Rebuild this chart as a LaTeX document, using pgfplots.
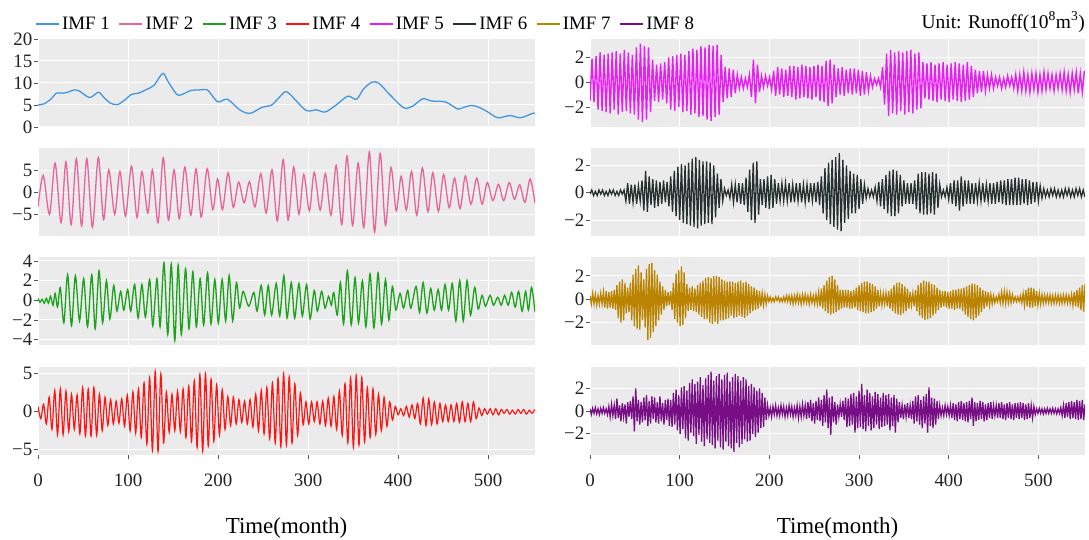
\documentclass[border=0pt]{standalone}
\usepackage{fontspec}
\setmainfont{Liberation Serif}
\usepackage{pgfplots}
\usepackage{pgfplotstable}
\pgfplotsset{compat=1.18}
\definecolor{bgc}{HTML}{EBEBEB}
\definecolor{tickc}{HTML}{555555}
\definecolor{labc}{HTML}{222222}
\definecolor{cA}{HTML}{4196E4}
\definecolor{cB}{HTML}{E8649A}
\definecolor{cC}{HTML}{1CA21C}
\definecolor{cD}{HTML}{FF1414}
\definecolor{cE}{HTML}{E81EF5}
\definecolor{cF}{HTML}{26302E}
\definecolor{cG}{HTML}{BA8300}
\definecolor{cH}{HTML}{780E85}

\pgfplotstableread{
x y
0 5.0
7 5.3
14.7 6.4
20.5 7.7
28.3 7.7
34.1 8.0
39.9 8.4
45.7 8.2
57.3 6.7
67.0 7.9
72.8 6.8
80.6 5.4
88.3 5.1
96.1 6.1
103.8 7.4
111.6 7.7
121.3 8.6
129.0 9.5
138.7 12.2
144.5 10.3
154.2 7.4
160.0 7.4
169.7 8.3
177.4 8.4
187.1 8.5
191.0 7.8
199.9 5.7
210.4 6.3
224.0 3.9
235.5 3.1
249.1 4.5
258.8 4.9
266.5 6.4
274.3 8.0
280.1 7.4
297.5 3.8
309.1 3.9
318.8 3.4
330.5 4.9
344.0 7.0
353.7 6.3
361.4 8.6
371.1 10.2
378.9 9.9
390.5 7.4
406.0 4.4
415.7 4.7
427.3 6.4
437.0 5.9
452.5 5.7
466.0 4.1
471.8 4.4
481.5 4.9
489.3 4.5
499.0 3.5
510.6 2.1
524.2 2.6
535.8 2.1
549.3 3.1
552 3.1
}\imfA

\pgfplotstableread{
x y
0 -3.3
5.8 3.8
12.8 -5.0
19.0 6.6
25.6 -6.9
31.0 6.9
36.8 -7.3
42.6 7.6
48.4 -7.6
54.2 7.6
60.4 -7.9
67.0 7.9
72.8 -6.2
78.6 5.1
85.2 -5.0
91.0 4.7
97.2 -5.4
103.8 5.9
110.0 -5.7
115.4 4.7
122.0 -4.7
127.1 5.1
133.3 -6.9
139.1 7.8
144.9 -6.3
151.1 5.1
156.9 -6.0
163.1 5.7
169.7 -5.2
175.5 5.3
181.3 -5.6
187.9 5.3
194.1 -3.9
199.5 3.0
204.9 -3.9
211.1 4.4
216.9 -3.4
222.8 2.3
229.0 -2.4
234.8 2.4
241.0 -3.3
247.5 4.2
253.4 -4.7
259.9 5.1
265.8 -6.5
272.3 7.4
277.8 -6.3
284.0 5.7
289.8 -5.0
295.2 4.0
301.4 -4.2
306.8 4.5
313.4 -4.0
319.2 4.2
325.4 -5.2
331.2 6.1
337.4 -7.3
343.2 8.2
349.4 -7.5
355.6 6.6
361.8 -8.0
368.0 9.1
373.8 -9.0
380.0 8.8
385.9 -7.5
392.0 5.6
397.9 -4.2
403.3 3.6
409.1 -4.0
414.9 4.7
420.7 -5.2
426.9 5.5
433.1 -4.4
438.5 4.4
444.7 -4.3
450.5 4.0
456.7 -3.5
462.6 3.2
468.8 -3.7
474.6 3.7
480.8 -2.7
487.3 3.2
493.2 -2.7
499.0 2.2
505.2 -1.9
511.4 1.8
517.2 -1.9
523.4 2.2
529.2 -1.6
535.0 1.7
540.8 -2.3
546.6 3.0
552 -2.5
}\imfB

\pgfplotstableread{
x y
0.0 0.2
2.3 -0.2
4.6 0.1
7.0 -0.3
9.3 0.2
11.6 -0.3
13.9 0.4
16.7 -0.5
19.0 0.7
21.7 -0.7
24.8 1.3
28.7 -2.3
32.9 2.6
37.2 -2.6
41.5 2.5
46.1 -2.1
50.7 2.2
55.0 -2.7
59.7 2.6
63.5 -2.9
67.8 3.0
71.7 -2.3
76.0 2.0
79.8 -1.9
84.1 1.5
87.6 -1.1
91.8 0.9
95.3 -1.0
99.6 1.1
103.0 -1.1
107.3 1.6
111.2 -1.8
115.4 1.6
119.3 -1.7
124.0 2.1
127.5 -2.6
132.1 2.2
135.6 -2.7
139.9 3.8
144.1 -3.5
148.0 3.7
151.9 -4.1
155.7 3.6
159.2 -3.5
163.9 3.2
167.7 -2.9
172.0 2.9
175.9 -2.7
180.1 2.2
184.0 -2.5
188.3 2.8
192.1 -2.4
196.4 2.1
200.3 -2.3
204.5 2.1
208.4 -2.1
212.3 2.5
216.2 -2.1
220.4 1.8
223.9 -0.8
227.8 0.9
234.0 -0.6
239.8 0.8
243.3 -1.1
247.9 1.5
251.8 -1.5
255.7 1.5
259.5 -1.5
264.6 1.7
268.5 -1.6
273.1 2.5
276.6 -1.8
281.3 1.8
285.1 -1.8
289.8 1.7
293.6 -1.6
298.3 1.6
302.2 -1.9
306.8 1.0
310.3 -1.1
315.0 0.9
318.8 -0.8
322.7 0.4
325.8 -0.5
328.5 0.8
332.4 -1.5
335.9 1.8
339.4 -2.4
343.6 3.0
347.9 -2.5
352.1 2.3
356.0 -2.3
360.3 2.0
364.2 -2.7
368.8 2.7
373.1 -2.8
377.7 2.8
381.6 -2.4
385.9 2.1
389.7 -2.0
393.6 1.4
397.5 -1.0
402.1 0.7
406.0 -0.8
410.6 1.0
414.1 -0.8
419.9 1.4
423.8 -1.25
427.7 1.8
431.9 -1.3
436.2 1.2
440.1 -1.0
444.4 1.1
448.2 -1.0
452.1 1.6
456.0 -1.0
460.2 1.7
464.1 -2.1
468.4 2.0
472.3 -2.1
476.5 2.0
480.4 -1.5
485.0 1.3
488.9 -0.9
493.2 0.5
497.0 -0.6
502.1 0.5
505.9 -0.5
510.6 0.3
514.5 -0.5
518.3 0.5
522.2 -0.5
526.1 0.8
530.0 -0.7
533.8 0.9
537.7 -1.1
541.6 0.9
544.7 -1.0
548.2 1.3
552.0 -1.2
}\imfC

\pgfplotstableread[row sep=\\]{
y\\
0.7\\ -0.9\\ 1.0\\ -1.6\\ 1.9\\ -2.3\\ 2.8\\ -3.0\\ 3.0\\ -3.0\\
2.7\\ -2.6\\ 2.3\\ -2.3\\ 2.2\\ -2.9\\ 3.2\\ -3.2\\ 3.0\\ -3.2\\
3.2\\ -3.1\\ 2.3\\ -2.5\\ 1.9\\ -1.8\\ 1.6\\ -1.6\\ 1.4\\ -1.5\\
1.7\\ -1.9\\ 2.2\\ -2.5\\ 2.6\\ -2.8\\ 3.0\\ -3.4\\ 3.8\\ -4.3\\
4.5\\ -5.1\\ 5.3\\ -5.2\\ 5.0\\ -4.1\\ 2.6\\ -2.7\\ 2.3\\ -2.5\\
2.7\\ -2.6\\ 3.0\\ -3.4\\ 3.4\\ -3.9\\ 4.1\\ -4.7\\ 4.9\\ -5.2\\
5.0\\ -4.5\\ 4.3\\ -3.9\\ 3.6\\ -3.1\\ 2.9\\ -2.3\\ 2.0\\ -1.8\\
1.9\\ -1.6\\ 1.6\\ -1.4\\ 1.4\\ -1.6\\ 1.6\\ -2.0\\ 2.3\\ -2.5\\
2.8\\ -2.9\\ 3.2\\ -3.6\\ 3.8\\ -4.1\\ 4.4\\ -4.6\\ 5.0\\ -4.4\\
4.6\\ -4.1\\ 3.7\\ -3.1\\ 2.5\\ -1.7\\ 1.3\\ -1.6\\ 1.3\\ -1.3\\
1.3\\ -1.6\\ 1.4\\ -1.8\\ 1.8\\ -1.9\\ 2.0\\ -2.3\\ 2.7\\ -3.1\\
3.7\\ -4.1\\ 4.5\\ -4.7\\ 4.8\\ -4.4\\ 4.5\\ -4.0\\ 3.2\\ -3.4\\
3.0\\ -3.0\\ 2.3\\ -2.5\\ 1.9\\ -1.9\\ 1.3\\ -1.1\\ 0.7\\ -0.4\\
0.4\\ -0.5\\ 0.7\\ -0.7\\ 0.9\\ -0.9\\ 1.1\\ -1.6\\ 1.8\\ -1.8\\
1.7\\ -1.7\\ 1.3\\ -1.6\\ 1.1\\ -1.3\\ 0.9\\ -1.3\\ 0.9\\ -1.3\\
1.1\\ -1.4\\ 1.3\\ -1.3\\ 1.1\\ -1.3\\ 1.3\\ -0.9\\ 0.5\\ -0.5\\
0.4\\ -0.3\\ 0.4\\ -0.4\\ 0.4\\ -0.4\\ 0.3\\ -0.2\\ 0.3\\ -0.3\\
0.2\\ -0.3\\ 0.3\\ -0.2\\ 0.3\\ -0.3\\ 0.2\\ -0.2\\ 0.3\\
}\imfD

\pgfplotstableread[row sep=\\]{
y\\
-1.5\\ 1.9\\ -1.6\\ 2.1\\ -2.2\\ 2.4\\ -2.3\\ 2.2\\ -2.4\\ 2.3\\
-2.5\\ 2.4\\ -2.2\\ 2.5\\ -2.6\\ 2.3\\ -2.4\\ 2.6\\ -2.3\\ 2.4\\
-2.5\\ 2.2\\ -2.6\\ 2.8\\ -3.0\\ 3.1\\ -3.2\\ 2.9\\ -3.0\\ 2.8\\
-2.4\\ 1.8\\ -1.5\\ 1.4\\ -1.6\\ 1.5\\ -1.4\\ 1.6\\ -1.7\\ 2.0\\
-2.2\\ 2.1\\ -2.3\\ 2.2\\ -2.0\\ 2.3\\ -2.4\\ 2.2\\ -2.3\\ 2.5\\
-2.6\\ 2.7\\ -2.5\\ 2.6\\ -2.8\\ 2.9\\ -2.7\\ 2.8\\ -3.0\\ 3.0\\
-3.1\\ 2.9\\ -2.8\\ 3.0\\ -2.6\\ 2.2\\ -1.6\\ 1.2\\ -1.3\\ 1.1\\
-1.2\\ 1.0\\ -0.9\\ 0.6\\ -0.5\\ 0.4\\ -0.5\\ 0.3\\ -0.4\\ 0.6\\
-1.2\\ 1.8\\ -1.7\\ 1.4\\ -0.8\\ 0.5\\ -0.4\\ 0.5\\ -0.3\\ 0.4\\
-0.6\\ 0.9\\ -1.1\\ 1.2\\ -1.0\\ 1.1\\ -1.2\\ 1.0\\ -1.1\\ 1.3\\
-1.2\\ 1.3\\ -1.4\\ 1.2\\ -1.3\\ 1.4\\ -1.2\\ 1.3\\ -1.3\\ 1.2\\
-1.4\\ 1.3\\ -1.2\\ 1.4\\ -1.5\\ 1.3\\ -1.6\\ 1.7\\ -1.9\\ 1.8\\
-1.7\\ 1.4\\ -1.2\\ 1.1\\ -1.0\\ 1.2\\ -1.1\\ 1.0\\ -0.9\\ 1.1\\
-1.0\\ 1.1\\ -0.9\\ 1.0\\ -1.1\\ 0.9\\ -1.0\\ 0.8\\ -0.7\\ 0.5\\
-0.4\\ 0.3\\ -0.2\\ 0.3\\ -0.4\\ 1.2\\ -1.8\\ 2.3\\ -2.7\\ 2.6\\
-2.5\\ 2.4\\ -2.6\\ 2.5\\ -2.3\\ 2.4\\ -2.6\\ 2.5\\ -2.4\\ 2.6\\
-2.5\\ 2.3\\ -2.2\\ 2.4\\ -2.1\\ 1.6\\ -1.3\\ 1.5\\ -1.4\\ 1.6\\
-1.5\\ 1.4\\ -1.6\\ 1.5\\ -1.4\\ 1.6\\ -1.5\\ 1.4\\ -1.6\\ 1.5\\
-1.4\\ 1.6\\ -1.5\\ 1.5\\ -1.6\\ 1.4\\ -1.5\\ 1.6\\ -1.4\\ 1.3\\
-1.2\\ 1.0\\ -0.9\\ 0.9\\ -0.8\\ 0.9\\ -0.7\\ 0.6\\ -0.5\\ 0.6\\
-0.5\\ 0.4\\ -0.3\\ 0.4\\ -0.5\\ 0.3\\ -0.4\\ 0.5\\ -0.3\\ 0.4\\
-0.5\\ 0.6\\ -0.7\\ 0.6\\ -0.7\\ 0.8\\ -0.7\\ 0.6\\ -0.8\\ 0.7\\
-0.6\\ 0.7\\ -0.8\\ 0.6\\ -0.7\\ 0.8\\ -0.6\\ 0.7\\ -0.5\\ 0.6\\
-0.7\\ 0.6\\ -0.5\\ 0.7\\ -0.6\\ 0.8\\ -0.7\\ 0.6\\ -0.8\\ 0.7\\
-0.6\\ 0.8\\ -0.9\\ 0.7\\ -0.8\\ 0.9\\
}\imfE

\pgfplotstableread[row sep=\\]{
y\\
-0.1\\ 0.2\\ -0.2\\ 0.1\\ -0.2\\ 0.2\\ -0.1\\ 0.2\\ -0.2\\ 0.1\\
-0.2\\ 0.2\\ -0.1\\ 0.2\\ -0.2\\ 0.1\\ -0.2\\ 0.2\\ -0.1\\ 0.2\\
-0.6\\ 0.7\\ -0.8\\ 0.6\\ -0.7\\ 0.6\\ -0.8\\ 0.5\\ -0.6\\ 0.9\\
-1.3\\ 1.6\\ -1.4\\ 1.2\\ -0.9\\ 1.0\\ -1.1\\ 0.9\\ -1.0\\ 0.8\\
-0.8\\ 0.9\\ -0.7\\ 0.8\\ -1.0\\ 1.2\\ -1.4\\ 1.6\\ -1.7\\ 1.9\\
-2.0\\ 2.1\\ -2.2\\ 2.0\\ -2.3\\ 2.2\\ -2.4\\ 2.5\\ -2.5\\ 2.6\\
-2.6\\ 2.4\\ -2.4\\ 2.3\\ -2.3\\ 2.3\\ -2.2\\ 2.2\\ -2.3\\ 2.0\\
-1.8\\ 1.4\\ -1.1\\ 1.0\\ -0.6\\ 0.3\\ -0.2\\ 0.2\\ -0.4\\ 0.6\\
-0.7\\ 0.6\\ -0.7\\ 0.7\\ -0.8\\ 0.7\\ -0.9\\ 1.1\\ -1.4\\ 1.7\\
-2.0\\ 2.2\\ -2.2\\ 2.3\\ -1.6\\ 1.0\\ -0.9\\ 1.0\\ -1.1\\ 1.2\\
-1.2\\ 1.3\\ -1.1\\ 1.0\\ -0.8\\ 0.7\\ -0.6\\ 0.7\\ -0.6\\ 0.7\\
-0.6\\ 0.7\\ -0.7\\ 0.6\\ -0.7\\ 0.7\\ -0.6\\ 0.7\\ -0.7\\ 0.6\\
-0.7\\ 0.6\\ -0.7\\ 0.7\\ -0.6\\ 0.7\\ -0.7\\ 0.8\\ -0.9\\ 1.2\\
-1.5\\ 1.8\\ -2.0\\ 2.2\\ -2.3\\ 2.4\\ -2.5\\ 2.6\\ -2.7\\ 2.9\\
-2.8\\ 2.4\\ -2.2\\ 2.0\\ -1.9\\ 1.6\\ -1.5\\ 1.4\\ -1.5\\ 1.3\\
-1.2\\ 1.0\\ -0.8\\ 0.6\\ -0.4\\ 0.3\\ -0.3\\ 0.2\\ -0.3\\ 0.4\\
-0.6\\ 0.8\\ -1.0\\ 1.0\\ -1.2\\ 1.3\\ -1.5\\ 1.6\\ -1.7\\ 1.7\\
-1.7\\ 1.6\\ -1.5\\ 1.3\\ -1.0\\ 0.9\\ -0.8\\ 0.7\\ -0.8\\ 0.7\\
-0.8\\ 0.9\\ -1.2\\ 1.4\\ -1.5\\ 1.5\\ -1.6\\ 1.5\\ -1.6\\ 1.4\\
-1.5\\ 1.5\\ -1.6\\ 1.4\\ -1.1\\ 0.6\\ -0.3\\ 0.2\\ -0.3\\ 0.4\\
-0.5\\ 0.7\\ -0.8\\ 0.9\\ -1.0\\ 0.9\\ -1.3\\ 1.2\\ -1.0\\ 0.9\\
-0.8\\ 0.9\\ -0.8\\ 0.7\\ -0.8\\ 0.7\\ -0.6\\ 0.7\\ -0.6\\ 0.7\\
-0.7\\ 0.6\\ -0.6\\ 0.7\\ -0.8\\ 0.7\\ -0.8\\ 0.8\\ -0.7\\ 0.9\\
-0.8\\ 0.9\\ -0.9\\ 1.0\\ -0.9\\ 1.0\\ -0.9\\ 1.1\\ -0.9\\ 1.1\\
-0.9\\ 1.0\\ -0.8\\ 1.0\\ -0.9\\ 0.9\\ -0.8\\ 0.8\\ -0.7\\ 0.8\\
-0.6\\ 0.5\\ -0.4\\ 0.3\\ -0.3\\ 0.2\\ -0.3\\ 0.3\\ -0.2\\ 0.3\\
-0.3\\ 0.2\\ -0.3\\ 0.2\\ -0.3\\ 0.3\\ -0.2\\ 0.3\\ -0.3\\ 0.2\\
-0.3\\ 0.3\\ -0.2\\ 0.3\\ -0.3\\ 0.2\\ -0.3\\
}\imfF

\pgfplotstableread[row sep=\\]{
y\\
0.3\\ -0.4\\ 0.5\\ -0.4\\ 0.4\\ -0.5\\ 0.3\\ -0.4\\ 0.5\\ -0.4\\
0.6\\ -0.7\\ 0.7\\ -0.8\\ 0.6\\ -0.7\\ 0.7\\ -0.8\\ 0.8\\ -0.9\\
1.2\\ -1.6\\ 1.5\\ -2.0\\ 1.7\\ -1.8\\ 1.4\\ -1.2\\ 1.0\\ -1.1\\
1.4\\ -1.8\\ 2.1\\ -2.3\\ 2.6\\ -2.5\\ 2.9\\ -2.6\\ 2.3\\ -1.8\\
1.7\\ -2.4\\ 2.6\\ -3.5\\ 3.0\\ -3.3\\ 3.1\\ -2.8\\ 2.5\\ -2.3\\
2.1\\ -1.8\\ 1.5\\ -1.3\\ 1.1\\ -0.9\\ 0.8\\ -0.6\\ 0.6\\ -0.5\\
0.7\\ -0.9\\ 1.4\\ -1.7\\ 2.2\\ -2.0\\ 2.5\\ -2.3\\ 2.8\\ -2.2\\
2.3\\ -1.6\\ 1.3\\ -1.0\\ 1.0\\ -0.9\\ 1.1\\ -1.0\\ 0.9\\ -1.1\\
1.2\\ -1.3\\ 1.4\\ -1.5\\ 1.6\\ -1.7\\ 1.8\\ -1.7\\ 1.9\\ -2.0\\
1.8\\ -2.1\\ 2.0\\ -1.9\\ 2.0\\ -2.1\\ 1.9\\ -1.8\\ 1.7\\ -1.8\\
1.6\\ -1.7\\ 1.5\\ -1.6\\ 1.5\\ -1.4\\ 1.5\\ -1.6\\ 1.4\\ -1.5\\
1.5\\ -1.4\\ 1.6\\ -1.5\\ 1.4\\ -1.6\\ 1.5\\ -1.4\\ 1.3\\ -1.2\\
1.1\\ -1.0\\ 1.0\\ -0.9\\ 0.8\\ -0.8\\ 0.7\\ -0.6\\ 0.5\\ -0.5\\
0.4\\ -0.4\\ 0.3\\ -0.2\\ 0.2\\ -0.2\\ 0.1\\ -0.2\\ 0.2\\ -0.1\\
0.2\\ -0.2\\ 0.1\\ -0.2\\ 0.2\\ -0.2\\ 0.3\\ -0.2\\ 0.3\\ -0.3\\
0.3\\ -0.4\\ 0.3\\ -0.3\\ 0.4\\ -0.3\\ 0.3\\ -0.4\\ 0.4\\ -0.3\\
0.4\\ -0.3\\ 0.3\\ -0.4\\ 0.4\\ -0.3\\ 0.3\\ -0.4\\ 0.4\\ -0.4\\
0.6\\ -0.6\\ 0.9\\ -0.8\\ 1.2\\ -1.0\\ 1.6\\ -1.2\\ 1.9\\ -1.3\\
2.0\\ -1.2\\ 1.7\\ -1.1\\ 1.2\\ -0.9\\ 0.8\\ -0.8\\ 0.8\\ -0.7\\
0.8\\ -0.7\\ 0.8\\ -0.8\\ 0.7\\ -0.8\\ 0.8\\ -0.7\\ 1.0\\ -0.9\\
1.2\\ -1.0\\ 1.4\\ -1.1\\ 1.5\\ -1.2\\ 1.5\\ -1.2\\ 1.4\\ -1.1\\
1.3\\ -1.0\\ 1.1\\ -0.8\\ 0.8\\ -0.6\\ 0.5\\ -0.5\\ 0.5\\ -0.4\\
0.5\\ -0.6\\ 0.7\\ -0.8\\ 0.9\\ -1.0\\ 1.2\\ -1.2\\ 1.4\\ -1.3\\
1.45\\ -1.35\\ 1.3\\ -1.2\\ 1.1\\ -1.0\\ 0.9\\ -0.8\\ 0.6\\ -0.5\\
0.5\\ -0.6\\ 0.8\\ -1.0\\ 1.2\\ -1.4\\ 1.4\\ -1.6\\ 1.6\\ -1.75\\
1.5\\ -1.7\\ 1.5\\ -1.6\\ 1.3\\ -1.4\\ 1.2\\ -1.2\\ 1.0\\ -0.9\\
0.8\\ -0.7\\ 0.7\\ -0.6\\ 0.7\\ -0.7\\ 0.6\\ -0.8\\ 0.7\\ -0.8\\
0.8\\ -0.9\\ 0.8\\ -0.8\\ 0.9\\ -0.8\\ 0.9\\ -1.0\\ 1.0\\ -1.3\\
1.1\\ -1.5\\ 1.2\\ -1.7\\ 1.35\\ -1.8\\ 1.3\\ -1.6\\ 1.2\\ -1.4\\
1.0\\ -1.1\\ 0.8\\ -0.8\\ 0.7\\ -0.6\\ 0.6\\ -0.5\\ 0.4\\ -0.4\\
0.3\\ -0.3\\ 0.2\\ -0.2\\ 0.4\\ -0.3\\ 0.6\\ -0.35\\ 0.65\\ -0.35\\
0.6\\ -0.3\\ 0.5\\ -0.3\\ 0.4\\ -0.2\\ 0.2\\ -0.2\\ 0.2\\ -0.2\\
0.3\\ -0.3\\ 0.5\\ -0.5\\ 0.8\\ -0.6\\ 1.0\\ -0.7\\ 1.0\\ -0.7\\
0.9\\ -0.6\\ 0.7\\ -0.5\\ 0.5\\ -0.4\\ 0.4\\ -0.35\\ 0.35\\ -0.3\\
0.35\\ -0.3\\ 0.35\\ -0.35\\ 0.3\\ -0.35\\ 0.35\\ -0.3\\ 0.35\\ -0.35\\
0.3\\ -0.35\\ 0.35\\ -0.3\\ 0.35\\ -0.35\\ 0.3\\ -0.35\\ 0.4\\ -0.5\\
0.6\\ -0.6\\ 0.8\\ -0.7\\ 1.0\\ -0.9\\ 1.2\\ -1.05\\ 1.3\\
}\imfG

\pgfplotstableread[row sep=\\]{
y\\
0.2\\ -0.3\\ 0.25\\ -0.2\\ 0.3\\ -0.25\\ 0.2\\ -0.3\\ 0.25\\ -0.2\\
0.3\\ -0.2\\ 0.2\\ -0.3\\ 0.4\\ -0.5\\ 0.6\\ -0.4\\ 0.5\\ -0.7\\
1.1\\ -0.6\\ 0.5\\ -0.9\\ 0.7\\ -0.5\\ 0.6\\ -1.1\\ 0.8\\ -0.5\\
0.9\\ -0.7\\ 1.3\\ -1.8\\ 2.0\\ -0.9\\ 1.0\\ -1.2\\ 0.8\\ -1.0\\
1.2\\ -0.8\\ 1.4\\ -1.3\\ 0.9\\ -1.1\\ 1.3\\ -0.7\\ 1.2\\ -1.0\\
0.8\\ -1.1\\ 1.3\\ -0.9\\ 0.7\\ -1.2\\ 1.0\\ -0.8\\ 1.1\\ -1.3\\
1.0\\ -1.4\\ 1.6\\ -1.2\\ 1.9\\ -1.7\\ 1.4\\ -2.0\\ 2.1\\ -1.6\\
2.2\\ -2.4\\ 1.8\\ -2.6\\ 2.5\\ -1.9\\ 2.8\\ -2.2\\ 2.4\\ -2.9\\
2.6\\ -2.1\\ 3.0\\ -2.7\\ 2.3\\ -3.1\\ 2.9\\ -2.5\\ 3.2\\ -2.8\\
3.5\\ -3.0\\ 2.7\\ -3.3\\ 3.1\\ -2.6\\ 3.3\\ -3.2\\ 2.8\\ -3.4\\
3.2\\ -2.7\\ 3.4\\ -3.1\\ 2.6\\ -3.3\\ 3.0\\ -3.6\\ 3.3\\ -2.8\\
3.1\\ -3.2\\ 2.7\\ -2.9\\ 3.0\\ -2.5\\ 2.8\\ -2.7\\ 2.2\\ -2.6\\
2.4\\ -2.0\\ 2.1\\ -2.3\\ 1.8\\ -1.9\\ 2.0\\ -1.5\\ 1.6\\ -1.4\\
1.2\\ -0.8\\ 0.5\\ -0.4\\ 0.3\\ -0.5\\ 0.4\\ -0.3\\ 0.5\\ -0.4\\
0.3\\ -0.4\\ 0.5\\ -0.3\\ 0.4\\ -0.5\\ 0.3\\ -0.4\\ 0.5\\ -0.3\\
0.4\\ -0.5\\ 0.3\\ -0.4\\ 0.5\\ -0.6\\ 0.4\\ -0.5\\ 0.6\\ -0.4\\
0.5\\ -0.7\\ 0.8\\ -0.6\\ 1.0\\ -0.9\\ 0.7\\ -1.1\\ 0.9\\ -0.8\\
1.2\\ -0.9\\ 1.0\\ -1.3\\ 1.4\\ -1.0\\ 1.9\\ -1.5\\ 1.2\\ -2.1\\
1.3\\ -1.0\\ 0.8\\ -1.2\\ 0.6\\ -0.5\\ 0.6\\ -0.5\\ 0.9\\ -0.8\\
1.2\\ -1.4\\ 1.1\\ -1.3\\ 1.5\\ -1.2\\ 1.6\\ -1.9\\ 1.3\\ -1.5\\
1.8\\ -1.4\\ 2.4\\ -1.6\\ 1.4\\ -1.8\\ 1.9\\ -1.3\\ 1.6\\ -1.7\\
1.3\\ -1.5\\ 1.7\\ -1.2\\ 1.5\\ -1.6\\ 1.2\\ -1.4\\ 1.6\\ -1.3\\
1.4\\ -1.2\\ 1.5\\ -1.7\\ 1.2\\ -1.3\\ 1.4\\ -1.9\\ 1.1\\ -1.0\\
0.8\\ -0.6\\ 0.5\\ -0.7\\ 0.6\\ -0.5\\ 0.7\\ -0.6\\ 0.5\\ -0.7\\
0.9\\ -1.1\\ 1.3\\ -0.9\\ 1.4\\ -1.2\\ 1.0\\ -1.5\\ 1.3\\ -1.1\\
1.5\\ -1.9\\ 2.1\\ -1.3\\ 1.2\\ -1.5\\ 1.1\\ -1.2\\ 0.9\\ -0.7\\
0.5\\ -0.4\\ 0.3\\ -0.4\\ 0.5\\ -0.3\\ 0.4\\ -0.4\\ 0.5\\ -0.6\\
0.7\\ -0.8\\ 0.6\\ -0.9\\ 0.8\\ -0.7\\ 0.9\\ -0.8\\ 0.7\\ -0.9\\
0.8\\ -1.0\\ 0.9\\ -0.7\\ 1.2\\ -1.3\\ 0.8\\ -0.9\\ 0.7\\ -0.8\\
0.9\\ -0.7\\ 0.8\\ -0.9\\ 0.6\\ -0.8\\ 0.7\\ -0.6\\ 0.8\\ -0.7\\
0.5\\ -0.4\\ 0.5\\ -0.6\\ 0.7\\ -0.6\\ 0.8\\ -0.7\\ 0.6\\ -0.8\\
0.7\\ -0.6\\ 0.8\\ -0.7\\ 0.6\\ -0.8\\ 0.7\\ -0.6\\ 0.7\\ -0.7\\
0.8\\ -0.6\\ 0.7\\ -0.8\\ 0.6\\ -0.7\\ 0.7\\ -0.6\\ 0.5\\ -0.6\\
0.4\\ -0.3\\ 0.2\\ -0.2\\ 0.25\\ -0.2\\ 0.2\\ -0.25\\ 0.2\\ -0.2\\
0.25\\ -0.2\\ 0.2\\ -0.2\\ 0.25\\ -0.2\\ 0.2\\ -0.25\\ 0.2\\ -0.2\\
0.3\\ -0.4\\ 0.5\\ -0.6\\ 0.7\\ -0.5\\ 0.8\\ -0.7\\ 0.9\\ -0.6\\
0.8\\ -0.7\\ 1.0\\ -0.8\\ 0.9\\ -0.7\\ 1.0\\ -0.8\\ 0.6\\
}\imfH

\pgfplotsset{
  imf/.style={
    scale only axis, height=88bp, xmin=0, xmax=552,
    axis background/.style={fill=bgc},
    axis line style={draw=none},
    xmajorgrids, ymajorgrids,
    major grid style={white, line width=1bp},
    tick align=outside, major tick length=4bp,
    tick style={color=tickc, line width=0.8bp},
    tick pos=left,
    xtick={0,100,200,300,400,500},
    ticklabel style={font=\fontsize{19}{19}\selectfont, text=labc},
    yticklabel style={inner sep=1.5bp},
    no markers,
  },
  upper/.style={xticklabels={}, xtick style={/pgfplots/major tick length=0pt}},
  lower/.style={xticklabels={0,100,200,300,400,500},
    xticklabel style={yshift=-11bp},
    xlabel={Time(month)},
    xlabel style={at={(axis description cs:0.5,0)}, anchor=center, yshift=-73bp,
      font=\fontsize{23}{23}\selectfont}},
  lft/.style={at={(38bp,#1)}, anchor=south west, width=497bp},
  rgt/.style={at={(590bp,#1)}, anchor=south west, width=495bp},
}

\begin{document}
\begin{tikzpicture}
\useasboundingbox (0,0) rectangle (1089bp,540bp);

% ---- left column ----
\begin{axis}[imf, upper, lft=413bp, ymin=0, ymax=20,
  ytick={0,5,10,15,20}, yticklabels={0,5,10,15,20},
  legend columns=8,
  legend style={at={(axis description cs:0,1)}, anchor=west, xshift=-3bp, yshift=15bp,
    draw=none, fill=none, inner sep=0pt, nodes={inner sep=2.5bp},
    font=\fontsize{19}{19}\selectfont,
    /tikz/every even column/.append style={column sep=6.2bp}},
  legend image code/.code={\draw[#1, line width=1.4bp] (0bp,0bp) -- (23bp,0bp);}]
\addplot[cA, line width=1.3bp, smooth] table[x=x, y=y] {\imfA};
\addlegendimage{cB}
\addlegendimage{cC}
\addlegendimage{cD}
\addlegendimage{cE}
\addlegendimage{cF}
\addlegendimage{cG}
\addlegendimage{cH}
\legend{IMF 1,IMF 2,IMF 3,IMF 4,IMF 5,IMF 6,IMF 7,IMF 8}
\end{axis}

\begin{axis}[imf, upper, lft=303.5bp, ymin=-10, ymax=9.9,
  ytick={-5,0,5}, yticklabels={−5,0,5}]
\addplot[cB, line width=1.3bp, smooth] table[x=x, y=y] {\imfB};
\end{axis}

\begin{axis}[imf, upper, lft=194.5bp, ymin=-4.6, ymax=4.35,
  ytick={-4,-2,0,2,4}, yticklabels={−4,−2,0,2,4}]
\addplot[cC, line width=1.3bp, smooth] table[x=x, y=y] {\imfC};
\end{axis}

\begin{axis}[imf, lower, lft=85bp, ymin=-5.7, ymax=5.9,
  ytick={-5,0,5}, yticklabels={−5,0,5}]
\addplot[cD, line width=1.2bp, smooth] table[x expr=\coordindex*3.1, y=y] {\imfD};
\end{axis}

% ---- right column ----
\begin{axis}[imf, upper, rgt=413bp, ymin=-3.6, ymax=3.47,
  ytick={-2,0,2}, yticklabels={−2,0,2},
  title={Unit: Runoff(10\textsuperscript{8}m\textsuperscript{3})},
  title style={at={(axis description cs:1,1)}, anchor=east, yshift=11bp, inner sep=0pt,
    font=\fontsize{19.5}{20}\selectfont}]
\addplot[cE, line width=1.4bp] table[x expr=\coordindex*2.25, y=y] {\imfE};
\end{axis}

\begin{axis}[imf, upper, rgt=303.5bp, ymin=-3.2, ymax=3.24,
  ytick={-2,0,2}, yticklabels={−2,0,2}]
\addplot[cF, line width=1.3bp] table[x expr=\coordindex*2, y=y] {\imfF};
\end{axis}

\begin{axis}[imf, upper, rgt=194.5bp, ymin=-3.95, ymax=3.57,
  ytick={-2,0,2}, yticklabels={−2,0,2}]
\addplot[cG, line width=1.3bp] table[x expr=\coordindex*1.5, y=y] {\imfG};
\end{axis}

\begin{axis}[imf, lower, rgt=85bp, ymin=-3.88, ymax=3.9,
  ytick={-2,0,2}, yticklabels={−2,0,2}]
\addplot[cH, line width=1.3bp] table[x expr=\coordindex*1.5, y=y] {\imfH};
\end{axis}
\end{tikzpicture}
\end{document}
